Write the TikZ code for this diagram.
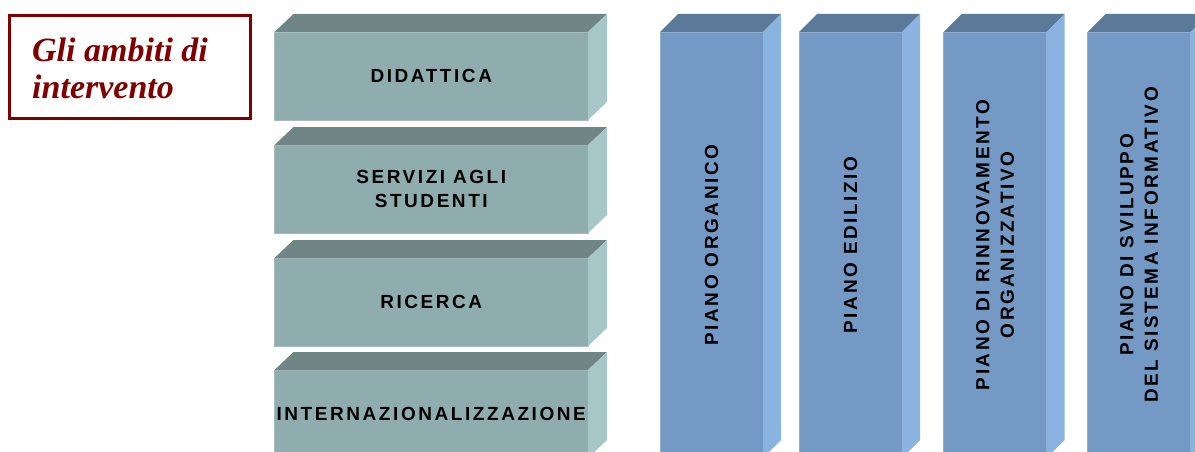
\documentclass[tikz,border=0pt]{standalone}
\usepackage{fontspec}
\newfontfamily\blockfont[LetterSpace=13.5]{Liberation Sans}
\newfontfamily\titlefont{Liberation Serif}
\definecolor{hfrontc}{RGB}{143,173,174}
\definecolor{htopc}{RGB}{111,133,134}
\definecolor{hsidec}{RGB}{166,198,200}
\definecolor{vfrontc}{RGB}{115,153,196}
\definecolor{vtopc}{RGB}{91,122,153}
\definecolor{vsidec}{RGB}{138,179,224}
\definecolor{titlec}{RGB}{128,0,0}
\begin{document}
\begin{tikzpicture}[x=1pt,y=-1pt,
  blocktext/.style={font=\blockfont\bfseries\fontsize{19}{24.5}\selectfont, align=center, text=black, inner sep=0pt},
  hfront/.style={blocktext, fill=hfrontc, draw=hfrontc!80!white, line width=0.6pt, outer sep=0pt, minimum width=313.5pt, minimum height=88pt},
  htop/.style={fill=htopc},
  hside/.style={fill=hsidec},
  vfront/.style={fill=vfrontc, draw=vfrontc!80!white, line width=0.6pt, inner sep=0pt, outer sep=0pt, minimum width=103pt, minimum height=426pt},
  vlabel/.style={blocktext, rotate=90},
  vtop/.style={fill=vtopc},
  vside/.style={fill=vsidec},
  titlebox/.style={draw=titlec, line width=3pt, minimum width=241pt, minimum height=103pt, inner sep=0pt},
  titletext/.style={font=\titlefont\bfseries\itshape\fontsize{34}{37}\selectfont, text=titlec, align=left, inner sep=0pt}
]
\useasboundingbox (0,0) rectangle (1195,452);
\clip (0,0) rectangle (1195,452);

% title
\node[titlebox] (tbox) at (130,67) {};
\node[titletext, anchor=west] (ttext) at (32,68) {Gli ambiti di\\intervento};

% horizontal blocks
\foreach \nm/\yc/\txt in {did/76/{DIDATTICA}, ser/189/{SERVIZI AGLI\\STUDENTI}, ric/302/{RICERCA}, int/414/{INTERNAZIONALIZZAZIONE}}{
  \node[hfront] (\nm) at (431.25,\yc) {\txt};
  \fill[htop] (\nm.north west) -- ++(19,-18) -- ++(313.5,0) -- (\nm.north east) -- cycle;
  \fill[hside] (\nm.north east) -- ++(19,-18) -- ++(0,88) -- (\nm.south east) -- cycle;
}

% vertical columns
\foreach \nm/\xc/\txt in {org/711.5/{PIANO ORGANICO}, edi/850.5/{PIANO EDILIZIO}, rin/995/{PIANO DI RINNOVAMENTO\\ORGANIZZATIVO}, svi/1139/{PIANO DI SVILUPPO\\DEL SISTEMA INFORMATIVO}}{
  \node[vfront] (\nm) at (\xc,245) {};
  \fill[vtop] (\nm.north west) -- ++(18,-18) -- ++(103,0) -- (\nm.north east) -- cycle;
  \fill[vside] (\nm.north east) -- ++(18,-18) -- ++(0,426) -- (\nm.south east) -- cycle;
  \node[vlabel] (\nm-t) at (\nm.center) {\txt};
}
\end{tikzpicture}
\end{document}
